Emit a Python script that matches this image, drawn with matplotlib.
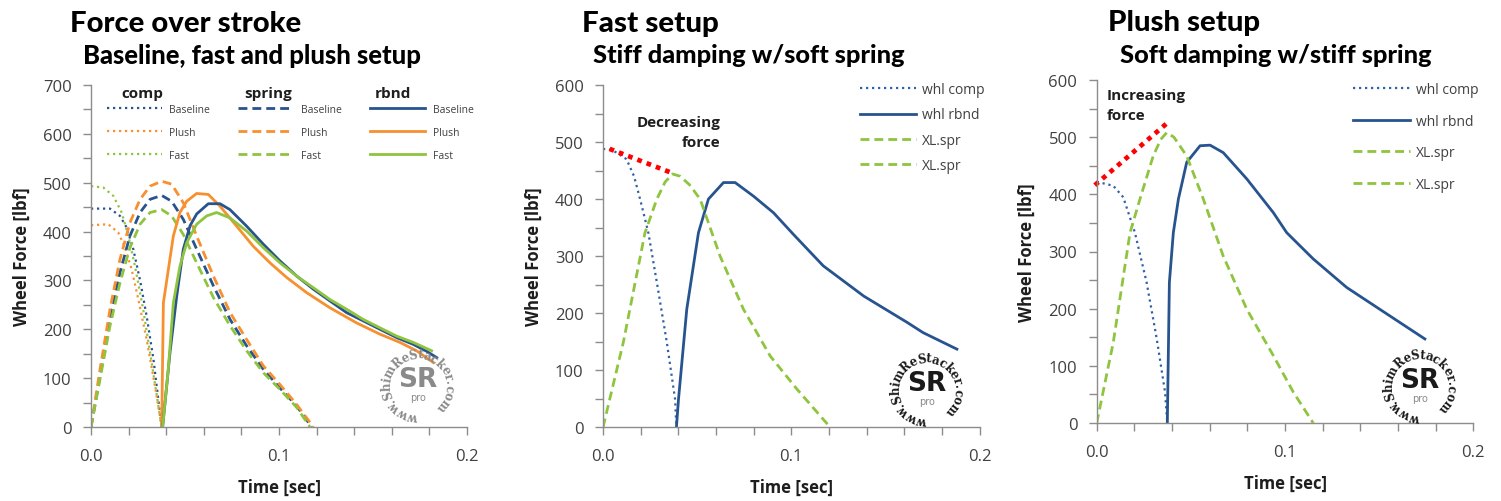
import numpy as np
import matplotlib
matplotlib.use("Agg")
import matplotlib.pyplot as plt
from matplotlib.lines import Line2D
from matplotlib.legend import Legend

# ---------------- data ----------------
series_names = ["Baseline", "Plush", "Fast"]

# Panel 1: force over stroke (baseline, plush, fast)
t_comp_base = [0, 0.0101, 0.0154, 0.019, 0.0225, 0.026, 0.0296, 0.0332, 0.0376]
f_comp_base = [447, 447, 432, 408, 364, 302, 227, 139, 0]
t_comp_plush = [0, 0.0092, 0.0145, 0.0181, 0.0216, 0.0252, 0.0296, 0.034, 0.0376]
f_comp_plush = [413, 415, 398, 367, 323, 261, 179, 84, 0]
t_comp_fast = [0, 0.0066, 0.0119, 0.0163, 0.0199, 0.0234, 0.0278, 0.0323, 0.0376]
f_comp_fast = [493, 490, 473, 439, 391, 329, 240, 131, 0]

t_spr = [0, 0.0048, 0.0101, 0.0154, 0.0207, 0.0261, 0.0314, 0.0376, 0.0429, 0.0491,
         0.0562, 0.0651, 0.074, 0.0828, 0.0917, 0.1005, 0.1094]
f_spr_base = [0, 104, 220, 316, 391, 439, 466, 474, 462, 425, 364, 289, 220, 166, 118, 80, 43]
f_spr_plush = [0, 118, 241, 343, 418, 466, 493, 503, 497, 459, 391, 309, 234, 179, 125, 87, 46]
f_spr_fast = [0, 98, 207, 295, 367, 415, 439, 445, 432, 394, 336, 265, 207, 156, 111, 77, 40]
t_spr_end = [0.1174, 0.1183, 0.1165]

t_rb_base = [0.0381, 0.042, 0.0456, 0.0491, 0.0527, 0.0562, 0.0624, 0.0686, 0.0739, 0.0828,
             0.0917, 0.1005, 0.1094, 0.1183, 0.1271, 0.136, 0.1449, 0.1537, 0.1626, 0.1715,
             0.1785, 0.1839]
f_rb_base = [0, 152, 268, 364, 412, 436, 457, 457, 445, 411, 374, 340, 309, 282, 258, 234,
             217, 200, 183, 169, 155, 142]
t_rb_plush = [0.0376, 0.0385, 0.0438, 0.0473, 0.0509, 0.0562, 0.0624, 0.0686, 0.0775, 0.0863,
              0.0952, 0.1041, 0.1147, 0.1271, 0.1413, 0.1537, 0.1644, 0.1732, 0.1821]
f_rb_plush = [0, 254, 391, 439, 462, 478, 476, 452, 411, 370, 336, 306, 275, 244, 213, 190,
              173, 156, 132]
t_rb_fast = [0.0381, 0.0411, 0.0438, 0.0473, 0.0509, 0.0562, 0.0615, 0.0668, 0.0739, 0.0828,
             0.0917, 0.1005, 0.1094, 0.1183, 0.1271, 0.136, 0.1449, 0.1537, 0.1626, 0.1715,
             0.1812]
f_rb_fast = [0, 118, 254, 329, 377, 415, 432, 439, 428, 401, 367, 336, 309, 285, 261, 241,
             220, 203, 186, 173, 156]

# Panel 2: fast setup
t2_comp = [0, 0.005, 0.0125, 0.0165, 0.0197, 0.0241, 0.0286, 0.0339, 0.0383, 0.039]
f2_comp = [488, 486, 470, 440, 400, 341, 254, 149, 49, 0]
t2_spr = [0, 0.0108, 0.0223, 0.0286, 0.033, 0.037, 0.041, 0.046, 0.0516, 0.0622, 0.0746,
          0.0888, 0.103, 0.1207]
f2_spr = [0, 149, 341, 400, 430, 444, 440, 425, 400, 300, 207, 125, 67, 0]
t2_rb = [0.039, 0.0401, 0.0445, 0.0507, 0.056, 0.064, 0.0702, 0.08, 0.0906, 0.1012, 0.117,
         0.1385, 0.1615, 0.170, 0.188]
f2_rb = [0, 49, 207, 341, 400, 429, 429, 405, 376, 338, 283, 230, 184, 166, 137]
t2_trend = [0.0035, 0.0365]
f2_trend = [488, 446]

# Panel 3: plush setup
t3_comp = [0, 0.0088, 0.0141, 0.0203, 0.0265, 0.0319, 0.0363, 0.0375]
f3_comp = [422, 415, 395, 333, 246, 147, 54, 0]
t3_spr = [0, 0.0088, 0.0177, 0.023, 0.030, 0.034, 0.0372, 0.041, 0.0478, 0.0566, 0.0672,
          0.0797, 0.0938, 0.1044, 0.115]
f3_spr = [0, 141, 333, 392, 467, 496, 508, 500, 467, 392, 292, 199, 118, 54, 0]
t3_rb = [0.0375, 0.0386, 0.0407, 0.0434, 0.0478, 0.0549, 0.0602, 0.0672, 0.0797, 0.0938,
         0.1009, 0.115, 0.1328, 0.154, 0.1743]
f3_rb = [0, 246, 333, 392, 456, 485, 486, 473, 427, 368, 333, 287, 237, 191, 147]
t3_trend = [-0.001, 0.0372]
f3_trend = [416, 524]

mid_labels = ["whl comp", "whl rbnd", "XL.spr", "XL.spr"]

# ---------------- style ----------------
BLUE = "#27548F"
BLUE_DOT = "#2F62A5"
ORANGE = "#F7902F"
GREEN = "#8FC43F"
RED = "#FF0000"
AXC = "#8C8C8C"
TXT = "#404040"
DARK = "#1E1E1E"
series_colors = [BLUE, ORANGE, GREEN]

DOT = (0, (1, 1.7))
DASH = (0, (3.2, 1.8))
LW_DOT, LW_DASH, LW_SOLID = 1.6, 2.0, 2.0

W, H = 1501, 502
fig = plt.figure(figsize=(W / 100, H / 100), dpi=100)
fig.patch.set_facecolor("white")
renderer = fig.canvas.get_renderer()


def rect(x0, x1, ytop, ybot):
    return [x0 / W, 1 - ybot / H, (x1 - x0) / W, (ybot - ytop) / H]


def style(ax, ymax):
    ax.set_xlim(0, 0.2)
    ax.set_ylim(0, ymax)
    for s in ["top", "right"]:
        ax.spines[s].set_visible(False)
    for s in ["left", "bottom"]:
        ax.spines[s].set_color(AXC)
        ax.spines[s].set_linewidth(1.0)
    ax.set_xticks([0, 0.1, 0.2])
    ax.set_xticklabels(["0.0", "0.1", "0.2"])
    ax.set_xticks(np.arange(0, 0.2001, 0.02), minor=True)
    ax.set_yticks(np.arange(0, ymax + 1, 100))
    ax.set_yticks(np.arange(0, ymax + 1, 50), minor=True)
    ax.tick_params(which="both", direction="out", length=6, width=1, color=AXC)
    ax.tick_params(axis="x", which="major", pad=9)
    ax.tick_params(axis="y", which="major", pad=8)
    for lab in ax.get_xticklabels() + ax.get_yticklabels():
        lab.set_fontfamily("Open Sans")
        lab.set_fontsize(12)
        lab.set_color(TXT)
    ax.text(0.5, -0.175, "Time [sec]", transform=ax.transAxes, ha="center", va="center",
            fontsize=12, fontweight="bold", family="Open Sans", color=DARK)
    ax.text(-0.185, 0.5, "Wheel Force [lbf]", transform=ax.transAxes, ha="center",
            va="center", rotation=90, fontsize=12, fontweight="bold", family="Open Sans",
            color=DARK)


def fit_text(x0, x1, ybase, s, fs, **kw):
    t = fig.text(x0 / W, 1 - ybase / H, s, fontsize=fs, ha="left", va="baseline", **kw)
    bb = t.get_window_extent(renderer=renderer)
    t.set_fontsize(fs * (x1 - x0) / bb.width)
    return t


def watermark(cx, cy, color, r=31):
    cyu = H - cy
    txt = "www.ShimReStacker.com"
    kw = dict(fontsize=8.5, fontweight="bold", family="DejaVu Serif", color=color)
    widths = []
    for ch in txt:
        tt = fig.text(0, 0, ch, **kw)
        widths.append(tt.get_window_extent(renderer=renderer).width)
        tt.remove()
    widths = np.array(widths)
    start, end = 272.0, -50.0
    span = start - end
    cum = np.cumsum(widths) - widths / 2
    angs = start - span * cum / widths.sum()
    for ch, a in zip(txt, angs):
        th = np.deg2rad(a)
        x = cx + r * np.cos(th)
        y = cyu + r * np.sin(th)
        fig.text(x / W, y / H, ch, rotation=a - 90, ha="center", va="center",
                 rotation_mode="anchor", **kw)
    fig.text(cx / W, (cyu + 6) / H, "SR", ha="center", va="center", fontsize=19,
             fontweight="bold", family="DejaVu Sans", color=color)
    fig.text(cx / W, (cyu - 12) / H, "pro", ha="center", va="center", fontsize=7,
             family="DejaVu Sans", color="#8A8A8A")


# ---------------- panel 1 ----------------
ax1 = fig.add_axes(rect(91, 467, 86, 428))
style(ax1, 700)
comp_sets = [(t_comp_base, f_comp_base), (t_comp_plush, f_comp_plush), (t_comp_fast, f_comp_fast)]
spr_sets = [f_spr_base, f_spr_plush, f_spr_fast]
rb_sets = [(t_rb_base, f_rb_base), (t_rb_plush, f_rb_plush), (t_rb_fast, f_rb_fast)]
for (tc, fc), c in zip(comp_sets, series_colors):
    ax1.plot(tc, fc, color=c, ls=DOT, lw=LW_DOT)
for fs_, te, c in zip(spr_sets, t_spr_end, series_colors):
    ax1.plot(t_spr + [te], fs_ + [0], color=c, ls=DASH, lw=LW_DASH)
for (tr, fr), c in zip([rb_sets[1], rb_sets[0], rb_sets[2]], [ORANGE, BLUE, GREEN]):
    ax1.plot(tr, fr, color=c, ls="-", lw=LW_SOLID)

for hdr, ls, lw, x0, xh in [("comp", DOT, LW_DOT, 107, 142), ("spring", DASH, LW_DASH, 238, 268),
                             ("rbnd", "-", LW_SOLID, 370, 393)]:
    handles = [Line2D([], [], color=c, ls=ls, lw=lw) for c in series_colors]
    leg = Legend(ax1, handles, series_names, loc="upper left",
                 bbox_to_anchor=(x0 / W, 1 - 105 / H), bbox_transform=fig.transFigure,
                 frameon=False, borderpad=0, borderaxespad=0, handlelength=5.3,
                 handletextpad=0.7, labelspacing=1.15,
                 prop={"family": "Open Sans", "size": 7.5})
    for t in leg.get_texts():
        t.set_color(TXT)
    ax1.add_artist(leg)
    fig.text(xh / W, 1 - 94 / H, hdr, ha="center", va="center", fontsize=11,
             fontweight="bold", family="Open Sans", color=DARK)

# ---------------- panel 2 ----------------
ax2 = fig.add_axes(rect(603, 979.5, 86, 428.3))
style(ax2, 600)
h1, = ax2.plot(t2_comp, f2_comp, color=BLUE_DOT, ls=DOT, lw=LW_DOT)
h2, = ax2.plot(t2_rb, f2_rb, color=BLUE, ls="-", lw=LW_SOLID)
h3, = ax2.plot(t2_spr, f2_spr, color=GREEN, ls=DASH, lw=LW_DASH)
ax2.plot(t2_trend, f2_trend, color=RED, ls=(0, (1, 1.1)), lw=3.4, clip_on=False)
leg2 = ax2.legend([h1, h2, h3, h3], mid_labels, loc="upper left",
                  bbox_to_anchor=(860 / W, 1 - 83 / H), bbox_transform=fig.transFigure,
                  frameon=False, borderpad=0, borderaxespad=0, handlelength=4.0,
                  handletextpad=0.45, labelspacing=0.75,
                  prop={"family": "Open Sans", "size": 10})
for t in leg2.get_texts():
    t.set_color(TXT)
fig.text(720.7 / W, 1 - 122.7 / H, "Decreasing", ha="right", va="center", fontsize=11,
         fontweight="bold", family="Open Sans", color=DARK)
fig.text(720.7 / W, 1 - 142.7 / H, "force", ha="right", va="center", fontsize=11,
         fontweight="bold", family="Open Sans", color=DARK)

# ---------------- panel 3 ----------------
ax3 = fig.add_axes(rect(1096.7, 1473.3, 81, 424))
style(ax3, 600)
g1, = ax3.plot(t3_comp, f3_comp, color=BLUE_DOT, ls=DOT, lw=LW_DOT)
g2, = ax3.plot(t3_rb, f3_rb, color=BLUE, ls="-", lw=LW_SOLID)
g3, = ax3.plot(t3_spr, f3_spr, color=GREEN, ls=DASH, lw=LW_DASH)
ax3.plot(t3_trend, f3_trend, color=RED, ls=(0, (1, 1.1)), lw=3.4, clip_on=False)
leg3 = ax3.legend([g1, g2, g3, g3], mid_labels, loc="upper left",
                  bbox_to_anchor=(1353 / W, 1 - 83 / H), bbox_transform=fig.transFigure,
                  frameon=False, borderpad=0, borderaxespad=0, handlelength=4.1,
                  handletextpad=0.4, labelspacing=1.2,
                  prop={"family": "Open Sans", "size": 10})
for t in leg3.get_texts():
    t.set_color(TXT)
fig.text(1106.7 / W, 1 - 96 / H, "Increasing", ha="left", va="center", fontsize=11,
         fontweight="bold", family="Open Sans", color=DARK)
fig.text(1106.7 / W, 1 - 116 / H, "force", ha="left", va="center", fontsize=11,
         fontweight="bold", family="Open Sans", color=DARK)

# ---------------- titles ----------------
tk = dict(fontweight="black", family="Lato", color="black")
fit_text(70, 300, 32, "Force over stroke", 19, **tk)
fit_text(83, 422, 64, "Baseline, fast and plush setup", 14, **tk)
fit_text(582, 718, 32, "Fast setup", 19, **tk)
fit_text(593, 905, 63, "Stiff damping w/soft spring", 14, **tk)
fit_text(1108, 1260, 31, "Plush setup", 19, **tk)
fit_text(1120, 1432, 63, "Soft damping w/stiff spring", 14, **tk)

# ---------------- watermarks ----------------
watermark(418, 386, "#8A8A8A")
watermark(926.7, 390, "#1A1A1A")
watermark(1420, 386.7, "#1A1A1A")

fig.savefig("out.png", dpi=100, facecolor="white")
